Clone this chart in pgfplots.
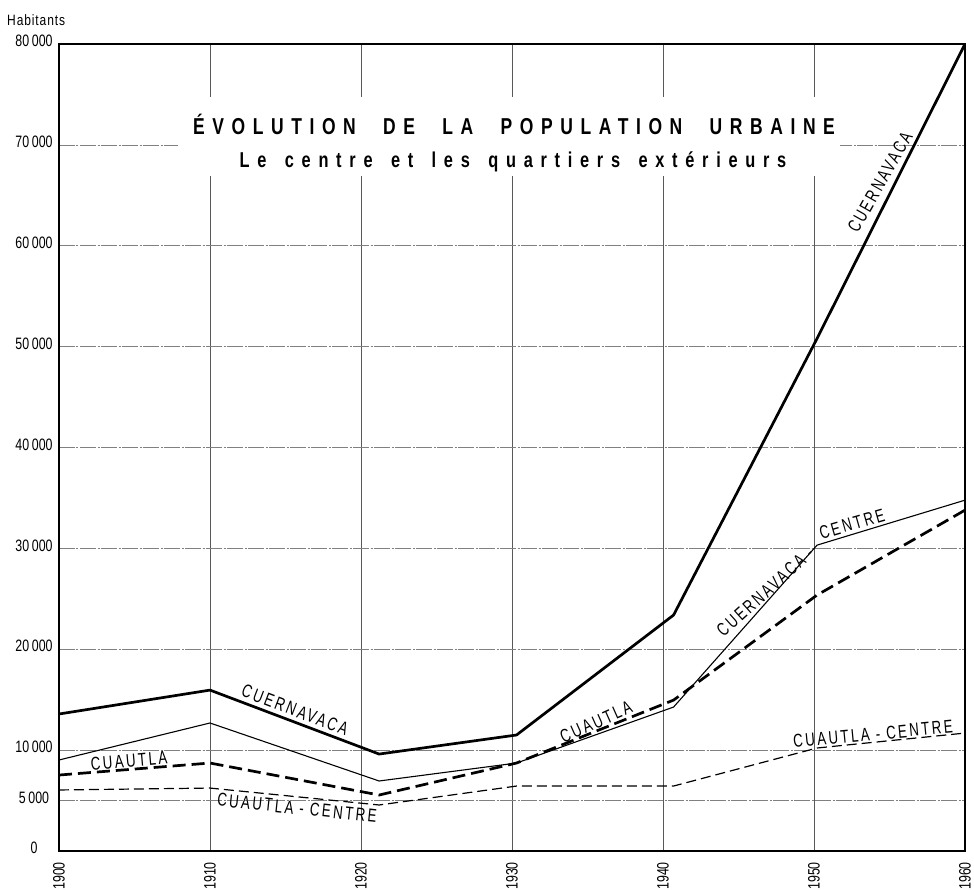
\documentclass[border=0pt]{standalone}
\usepackage{fontspec}
\setmainfont{Liberation Sans}[FakeStretch=0.75]
\newfontfamily\titlefont{Liberation Sans}[FakeStretch=0.76,LetterSpace=33,WordSpace=2.2]
\newfontfamily\subfont{Liberation Sans}[FakeStretch=0.76,LetterSpace=36,WordSpace=1.5]
\newfontfamily\lblfont{Liberation Sans}[FakeStretch=0.72,LetterSpace=13]
\newfontfamily\habfont{Liberation Sans}[FakeStretch=0.8,LetterSpace=6]
\usepackage{pgfplots}
\pgfplotsset{compat=1.18}
\begin{document}
\begin{tikzpicture}
\useasboundingbox (-59pt,-38pt) rectangle (915pt,851pt);
\begin{axis}[
  scale only axis, width=906pt, height=807pt,
  xmin=1900, xmax=1960, ymin=0, ymax=80000,
  scaled ticks=false,
  xtick={1900,1910,1920,1930,1940,1950,1960},
  xticklabels={1900,1910,1920,1930,1940,1950,1960},
  ytick={0,5000,10000,20000,30000,40000,50000,60000,70000,80000},
  yticklabels={0,{5\,000},{10\,000},{20\,000},{30\,000},{40\,000},{50\,000},{60\,000},{70\,000},{80\,000}},
  xmajorgrids, ymajorgrids,
  x grid style={black!65, line width=0.7pt},
  y grid style={black!50, line width=0.7pt, dash pattern=on 16pt off 1.5pt on 2pt off 1.5pt},
  axis line style={line width=1.8pt},
  major tick length=0pt,
  xticklabel style={font=\fontsize{16.5}{16.5}\selectfont, rotate=90, anchor=east, inner xsep=11pt, inner ysep=0pt},
  yticklabel style={font=\fontsize{16.5}{16.5}\selectfont, anchor=center, xshift=-25pt, yshift=3pt},
]
% CUERNAVACA
\addplot[black, line width=2.7pt, line join=round] coordinates {
  (1900,13580) (1910,15950) (1921.2,9610) (1930.3,11500) (1940.7,23390) (1950.2,50800) (1960,80000)};
% CUERNAVACA - CENTRE
\addplot[black, line width=1.1pt, line join=round] coordinates {
  (1900,9020) (1910,12690) (1921.2,6940) (1930.3,8720) (1940.7,14270) (1950.2,30320) (1960,34780)};
% CUAUTLA
\addplot[black, line width=2.7pt, dash pattern=on 13pt off 6pt] coordinates {
  (1900,7530) (1910,8720) (1921.2,5550) (1930.3,8720) (1940.7,14960) (1950.2,25370) (1960,33790)};
% CUAUTLA - CENTRE
\addplot[black, line width=1.2pt, dash pattern=on 10pt off 5pt] coordinates {
  (1900,6050) (1910,6240) (1921.2,4560) (1930.3,6440) (1940.7,6440) (1950.2,10210) (1960,11690)};
\end{axis}
\begin{scope}[x=1pt,y=-1pt,shift={(-59pt,851pt)}]
\fill[white] (178,97) rectangle (840,176);
\node[font=\titlefont\bfseries\fontsize{23}{25}\selectfont, inner sep=0pt] at (514,124) {ÉVOLUTION DE LA POPULATION URBAINE};
\node[font=\subfont\bfseries\fontsize{21.5}{23}\selectfont, inner sep=0pt] at (513,162) {Le centre et les quartiers extérieurs};
\node[font=\habfont\fontsize{15}{16}\selectfont, anchor=west, inner sep=0pt] at (7,20) {Habitants};
\begin{scope}[every node/.style={font=\lblfont\fontsize{18.5}{19}\selectfont, inner sep=0pt}]
\node[rotate=-21] at (295,710) {CUERNAVACA};
\node[rotate=60.5] at (880,182) {CUERNAVACA};
\node[rotate=5] at (129,761) {CUAUTLA};
\node[rotate=24] at (596,722) {CUAUTLA};
\node[rotate=42] at (765,592) {CUERNAVACA -};
\node[rotate=16] at (852,524) {CENTRE};
\node[rotate=-6] at (297,808) {CUAUTLA - CENTRE};
\node[rotate=5.3] at (873,734) {CUAUTLA - CENTRE};
\end{scope}
\end{scope}
\end{tikzpicture}
\end{document}
